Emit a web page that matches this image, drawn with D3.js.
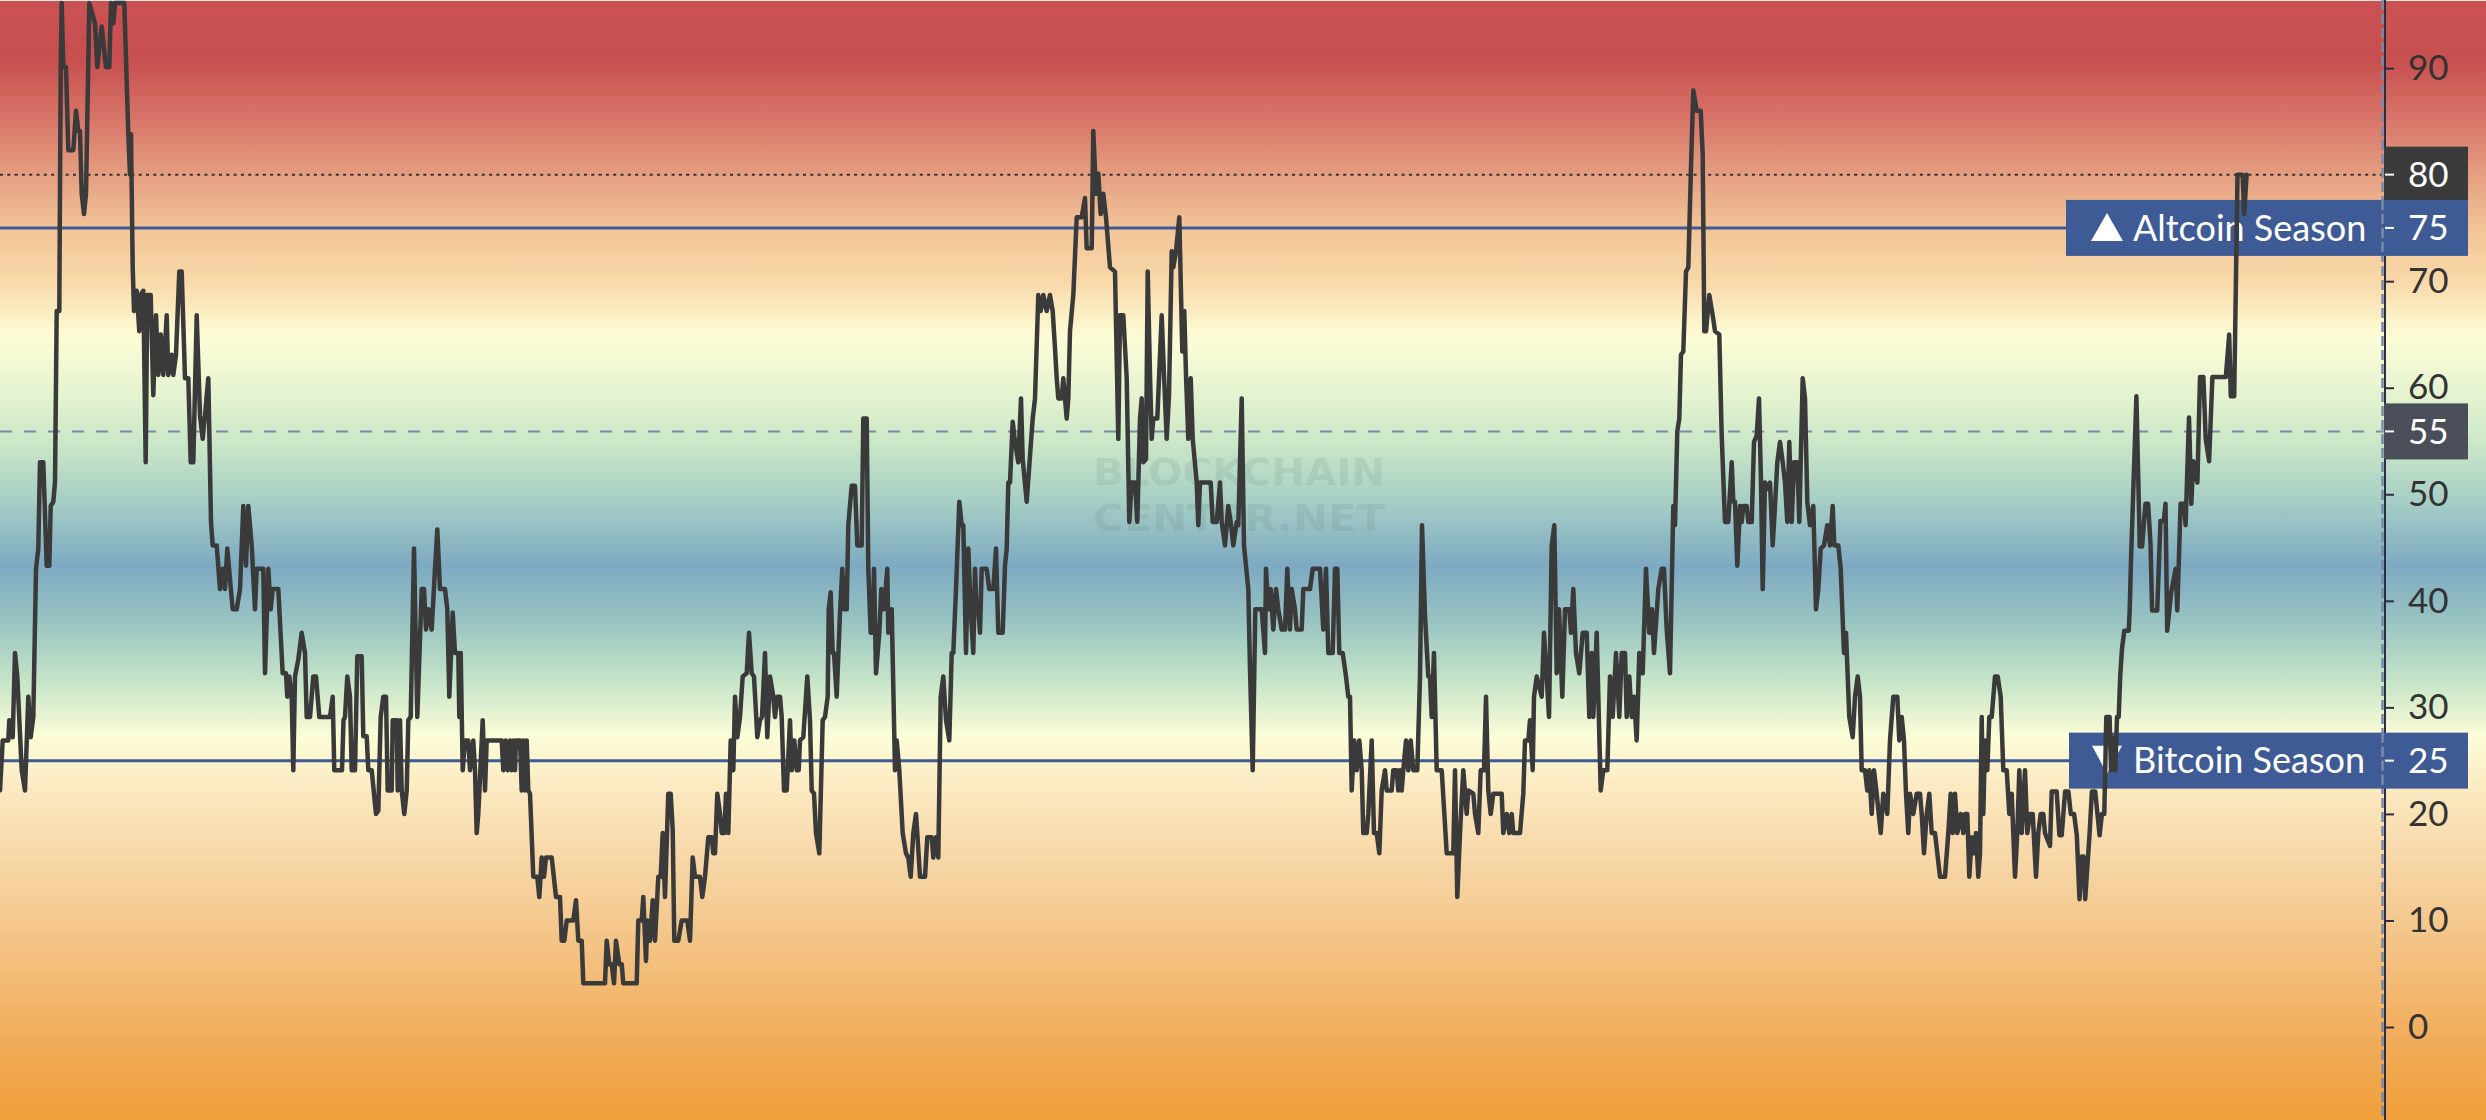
<!DOCTYPE html>
<html><head><meta charset="utf-8">
<script src="https://cdn.jsdelivr.net/npm/d3@7"></script>
<style>html,body{margin:0;padding:0;background:#fff;overflow:hidden}svg{display:block}</style>
</head><body><svg id="chart" width="2486" height="1120"></svg>
<script>
// ---- data ----
const tickValues = [0, 10, 20, 30, 40, 50, 60, 70, 80, 90];
const altcoinLevel = 75;
const bitcoinLevel = 25;
const averageLevel = 55.9;
const averageLabel = "55";
const lastValue = 80;
const altcoinText = "Altcoin Season";
const bitcoinText = "Bitcoin Season";
const watermarkLines = ["BLOCKCHAIN", "CENTER.NET"];
const bandValues = [96.4, 90.8, 85.1, 80.4, 75, 70.1, 64.7, 58.9, 55.1, 49.5, 43.3, 38.2, 32.6, 27.2, 21.4, 14.7, 7.2, -2.2, -8.7];
const bandColors = ["#cb5252","#c84f4f","#d8766a","#e49b7f","#f2c498","#f8d8a8","#fdfdd7","#e2f2cf","#cde8c8","#a7cfc5","#7daac2","#98c3c2","#c4e4c8","#fdfdd8","#fbe6bd","#f6d4a3","#f4c283","#f1aa55","#f0a03a"];
// [day offset, index value]
const altSeasonIndex = [[0,22.2],[2.7,26.9],[8.3,26.9],[9.3,28.8],[12.7,27.2],[15,35.1],[17.3,32.9],[21.7,24.1],[25,22.2],[28.3,31],[30.7,27.2],[33.3,29.1],[36,43],[38.3,44.9],[40,53],[43.3,53],[46.7,43.3],[49.3,43.3],[50.7,48.9],[53.3,49.3],[55,51.1],[56.7,67.2],[59.3,67.2],[60.7,90.1],[61.7,96.1],[63.3,90.1],[66,90.1],[68.3,82.3],[73.3,82.3],[76,86],[78.3,84.1],[80,84.1],[81.7,78.2],[84,76.3],[86,78.2],[89.3,96.1],[95,94.2],[97.3,90.1],[101.7,93.9],[106,90.1],[109.3,90.1],[111,96.1],[113.3,94.2],[115,96.1],[124.3,96.1],[128.3,83.8],[130,80],[131,83.8],[132.7,71.3],[134,67.2],[136.7,69.1],[139.3,65.3],[140.7,68.7],[143.3,69.1],[145.7,53],[147.3,68.7],[150.7,68.7],[153.3,59.3],[156,66.8],[158.3,61.2],[160.7,65],[163.3,61.2],[166.7,66.8],[168.3,61.2],[171.7,63.1],[173.3,61.2],[176,63.1],[179.3,70.9],[181.7,70.9],[185,60.9],[188.3,60.9],[190.7,53],[193.3,53],[196.7,66.8],[200,57.4],[202.7,55.2],[205,57.4],[208.3,60.9],[209.3,55.9],[211,47.4],[212.7,45.2],[216.7,45.2],[220,41.1],[222.7,43],[225,41.1],[227.3,44.9],[232.7,39.2],[236.7,39.2],[240,41.1],[243.3,48.9],[246,43.3],[248.3,48.9],[251.7,45.2],[255,39.2],[256.7,43],[263.3,43],[265,33.2],[268.3,43],[270.7,39.2],[272.7,41.1],[278.3,41.1],[282.7,33.2],[286,33.2],[287.3,31],[289.3,32.9],[291.7,31],[293.3,24.1],[295,32.9],[298.3,34.5],[301.7,37],[305,35.1],[306.7,29.1],[310,29.1],[313.3,32.9],[316,32.9],[319.3,29.1],[330,29.1],[332.7,31],[334.3,24.1],[342,24.1],[343.5,28.8],[345,29.1],[347.3,32.9],[350,31],[351.7,24.1],[355,24.1],[357.3,34.8],[361.7,34.8],[363.3,27.3],[366.7,27.3],[368.3,24.1],[371.7,24.1],[376,20],[378.3,20.3],[380.7,29.1],[383.3,31],[386,31],[387.7,22.2],[391.7,22.2],[392.7,28.8],[396.7,28.8],[397.7,22.2],[400,28.8],[401.7,22.2],[404.3,20],[406.7,22.2],[408.3,28.8],[410.7,29.1],[414,44.9],[417.3,29.1],[421.7,41.1],[424,41.1],[426,37.3],[428.3,39.2],[431.7,37.3],[435,43],[437.3,46.7],[440,41.1],[445,41.1],[447.3,39.2],[449.3,31],[452.7,38.9],[455,35.1],[458.3,35.1],[459.3,29.1],[460.7,35.1],[462.7,24.1],[465,26.9],[468.3,26.9],[470,24.1],[473.3,26.9],[475,24.1],[476.7,18.2],[478.3,20],[482.7,28.8],[485,22.2],[486.7,26.9],[501.7,26.9],[503.3,24.1],[505.7,26.9],[507.7,24.1],[510,26.9],[511.7,24.1],[513.3,26.9],[515,24.1],[516,26.9],[520,26.9],[521.7,22.2],[523.3,26.9],[525,22.2],[526.7,26.9],[528.3,22.2],[530,21.9],[533.3,14.1],[537.3,14.1],[539.3,12.2],[541.7,15.9],[544,14.1],[546,15.9],[551.7,15.9],[556,12.2],[560,12.2],[561.7,8.1],[564.3,8.1],[566.7,10],[573.3,10],[576,11.9],[578.3,8.1],[581.7,8.1],[583.3,4.1],[605,4.1],[606.7,8.1],[609.3,5.9],[611.7,5.9],[614,4.1],[616,8.1],[619.3,5.9],[621.7,5.9],[623.3,4.1],[636.7,4.1],[638.3,10],[641.7,10],[643.3,12.2],[646,6.2],[647.3,10],[650,8.1],[652.7,11.9],[655,8.1],[658.3,14.1],[660.7,14.1],[662.7,18.2],[665,12.2],[668.3,21.9],[670.7,21.9],[672.7,18.5],[674.3,8.1],[678.3,8.1],[681.7,10],[687.3,10],[690,8.1],[692.7,15.9],[695,14.1],[700,14.1],[702.3,12.2],[705,14.1],[708.3,17.8],[711.7,17.8],[713.3,16.3],[715,16.3],[717.3,21.9],[720,20],[721.7,18.2],[724.3,18.2],[726,21.9],[728.3,18.2],[730.7,26.9],[733.3,24.1],[735,31],[737.3,27.2],[740,29.1],[742.7,32.9],[746.7,33.2],[749,37],[751.7,33.2],[754,32.9],[757.3,27.2],[760,28.8],[762,29.1],[765,35.1],[767.3,27.2],[770,32.9],[773.3,31],[775,29.1],[777.3,31],[780,31],[781.7,29.1],[784,22.2],[786.7,22.2],[790,28.8],[791.7,24.1],[794.3,26.9],[796.7,24.1],[798.7,24.1],[800,26.9],[803.3,27.2],[807.3,32.9],[810,28.8],[811.7,22.2],[814,21.9],[816,18.2],[819.3,16.3],[822.7,28.8],[825,29.1],[827.7,31],[828.7,39.2],[830.7,40.8],[832.7,35.1],[834,35.1],[836.7,31],[840,38.9],[842.3,43],[844.3,39.2],[846.7,39.2],[848.3,47.1],[851.7,50.8],[855,50.8],[857.3,45.2],[861.7,45.2],[863.3,57.1],[866.7,57.1],[868.3,43],[870.7,37],[872.7,37],[874,43],[876,33.2],[879.3,37],[881.3,41.1],[884,39.2],[887.3,43],[888.3,37],[891.7,39.2],[895,24.1],[896.7,26.9],[899.3,24.1],[902.7,18.2],[906,16.3],[908.3,15.9],[910.7,14.1],[913.3,18.2],[916,20],[917.3,18.2],[920,14.1],[925,14.1],[927.3,17.8],[931.7,17.8],[933.3,15.9],[936,17.8],[938.3,15.9],[940.7,31],[943.3,32.9],[946,28.8],[949.3,26.9],[951.7,35.1],[953.3,35.1],[956,41.1],[959.3,49.3],[961.7,47.1],[963.3,47.1],[966,35.1],[968.3,44.9],[970.7,39.2],[973.3,35.1],[975,43],[976.7,39.2],[978.3,39.2],[980,37],[981.7,43],[986.7,43],[989.3,41.1],[993.3,41.1],[996,44.9],[998.3,37],[1002.7,37],[1005,43.3],[1006.7,44.9],[1008.3,51.1],[1010,51.1],[1012.7,56.8],[1015,54.9],[1018.3,53],[1021,59],[1022.7,53.3],[1026.7,49.3],[1030,53.6],[1032.7,57.1],[1035,59],[1038.3,68.7],[1040.7,67.2],[1043.3,68.7],[1046.7,67.2],[1050,68.7],[1052.7,67.2],[1055,63.7],[1056.7,60.9],[1058.3,59],[1061.7,59],[1063.3,60.9],[1065,59],[1066.7,57.1],[1068.3,59],[1070,65.3],[1073.3,68.7],[1076.7,76],[1081.7,76],[1085,77.8],[1086.7,73.1],[1091.7,73.1],[1093.3,84.1],[1096,78.2],[1098.3,80.1],[1100.7,76.3],[1103.3,78.2],[1106,76],[1110,71.3],[1115,70.9],[1118.3,55.2],[1120,66.8],[1123.3,66.8],[1126.7,60.9],[1129.3,47.4],[1131.7,51.1],[1135,51.1],[1137.3,47.4],[1140,57.1],[1141.7,59],[1143.3,53],[1146,53.3],[1147.7,70.9],[1150,61.2],[1151.7,55.2],[1153.3,57.1],[1157.3,57.1],[1161.7,66.8],[1164,61.2],[1166.7,55.2],[1169,59.3],[1171.7,72.8],[1173.3,71.3],[1176,72.8],[1179.3,76],[1182.3,63.4],[1184.3,67.2],[1186,61.2],[1188.3,55.2],[1190.7,60.9],[1192.7,55.2],[1196.7,51.1],[1198.3,47.1],[1200,51.1],[1210.7,51.1],[1212.7,47.4],[1216.7,47.4],[1220,51.1],[1221.7,47.4],[1225,45.2],[1228.3,48.9],[1230.7,47.4],[1233.3,45.2],[1236.7,47.4],[1238.3,47.1],[1241.7,59],[1244,45.2],[1248.3,41.1],[1250,33.6],[1252.7,24.1],[1255.3,39.2],[1261.7,39.2],[1265,35.1],[1266,43],[1268.3,39.2],[1270.7,41.1],[1273.3,37.3],[1276,41.1],[1278.3,39.2],[1281.7,37.3],[1285,37.3],[1287.3,43],[1290,37.3],[1291.7,41.1],[1295,39.2],[1296.7,37.3],[1301.7,37.3],[1303.3,41.1],[1310,41.1],[1312.7,43],[1320,43],[1323.3,37.3],[1326,43],[1328.3,35.1],[1332.7,35.1],[1335,43],[1337.3,43],[1339.3,35.1],[1342.7,35.1],[1346,32.9],[1348.3,31],[1350,31],[1351.7,22.2],[1354.3,26.9],[1356.7,24.1],[1359.3,26.9],[1361.7,24.1],[1363.3,18.2],[1366.7,18.2],[1368.3,20],[1371.7,26.9],[1374,18.2],[1376.7,18.2],[1379.3,16.3],[1381.7,22.2],[1385,24.1],[1386.7,22.2],[1391.7,22.2],[1393.3,24.1],[1396.7,24.1],[1398.3,22.2],[1400,24.1],[1401.7,22.2],[1403.3,24.1],[1406,26.9],[1408.3,24.1],[1410.7,26.9],[1413.3,24.1],[1417.3,24.1],[1420,32.9],[1422,47.1],[1425,38.6],[1428.3,32.9],[1430,32.9],[1431.7,29.1],[1434,35.1],[1436.7,24.1],[1441.7,24.1],[1446.7,16.3],[1453.3,16.3],[1455,24.1],[1457.3,12.2],[1460,18.2],[1463.3,24.1],[1466.7,20],[1468.3,22.2],[1473.3,21.9],[1475,20],[1478.3,18.2],[1480.7,24.1],[1484,24.1],[1486,31],[1488.3,22.2],[1490.7,20],[1493.3,21.9],[1501.7,21.9],[1503.3,18.2],[1506.7,20],[1509.3,18.2],[1511.7,20],[1513.3,18.2],[1520,18.2],[1523.3,21.9],[1525,26.9],[1528.3,26.9],[1530,28.8],[1532.7,24.1],[1534,31],[1536.7,32.9],[1541.7,31],[1544,37],[1546.7,32.9],[1549,29.1],[1551.7,45.2],[1554.3,47.1],[1556.7,33.2],[1559,39.2],[1562.3,31],[1565,39.2],[1569.3,39.2],[1571,37],[1573.3,41.1],[1576,35.1],[1579.3,33.2],[1582.7,37],[1586.7,37],[1589.3,29.1],[1591.7,35.1],[1593.3,29.1],[1596.7,37],[1600.7,22.2],[1603.3,24.1],[1607.3,24.1],[1610,32.9],[1612.7,29.1],[1616,35.1],[1619.3,29.1],[1621.7,35.1],[1625,35.1],[1626.7,29.1],[1629.3,32.9],[1631.7,29.1],[1634,31],[1636.7,26.9],[1639.3,35.1],[1642.7,33.2],[1646,43],[1649.3,37],[1652,39.2],[1654,35.1],[1658.3,41.1],[1661.7,43],[1664,43],[1666.7,37.3],[1670,33.2],[1673.3,48.9],[1675,47.1],[1677.3,55.9],[1679.3,57.1],[1681,63.1],[1683.3,63.4],[1686,70.9],[1688.3,71.3],[1691,80.7],[1693.3,87.9],[1696.7,86],[1700.7,86],[1702.7,81.9],[1704.3,65.3],[1706,65.3],[1709.3,68.7],[1712.7,66.8],[1715,65.3],[1719.3,65],[1721.7,55.5],[1725,47.4],[1728.3,47.4],[1731.7,53],[1733.3,49.3],[1735,49.3],[1737.3,43.3],[1740,48.9],[1741.7,47.4],[1743.3,48.9],[1746.7,48.9],[1748.3,47.4],[1751.7,47.4],[1754,54.9],[1756.7,55.5],[1759,59],[1761,51.1],[1762.7,41.1],[1765,51.1],[1768.3,50.5],[1770,51.1],[1772.7,45.2],[1775,48.9],[1777.3,53],[1780,54.9],[1782.7,53],[1785,51.1],[1787.3,47.4],[1789.3,54.9],[1791.7,47.4],[1794,53],[1797.3,53],[1799.3,47.4],[1802.7,60.9],[1805,59],[1807.3,49.3],[1810,47.1],[1813.3,48.9],[1816,39.2],[1818.3,41.1],[1820.7,44.9],[1824,45.2],[1827.3,47.1],[1830,45.2],[1832.7,48.9],[1834.3,45.2],[1838.3,45.2],[1840.7,43],[1844,35.1],[1846,37],[1849.3,29.1],[1852.7,27.2],[1855,31],[1857.7,32.9],[1860,31],[1861.7,24.1],[1865,24.1],[1867.3,22.2],[1869.3,24.1],[1871.7,20],[1874,24.1],[1876.7,21.9],[1880.7,18.2],[1883.3,21.9],[1887.3,20],[1890,26.9],[1893.3,31],[1897.3,31],[1899.3,26.9],[1901.7,29.1],[1904,26.9],[1906,21.9],[1908.3,18.2],[1910,21.9],[1913.3,20],[1916.7,21.9],[1920,21.9],[1921.7,20],[1924,16.3],[1926.7,20],[1929.3,21.9],[1931.7,18.2],[1935,18.2],[1937.3,16.3],[1940,14.1],[1945,14.1],[1948.3,18.2],[1950.7,21.9],[1952.7,18.2],[1955,21.9],[1957.3,18.2],[1960.7,20],[1963.3,18.2],[1965,20],[1967.3,20],[1969.3,14.1],[1971.7,17.8],[1974,16.3],[1976,18.2],[1978.3,14.1],[1980,16.3],[1981.7,29.1],[1983.3,20],[1985,26.9],[1987.3,24.1],[1989.3,29.1],[1991.7,29.1],[1995,32.9],[1997.7,32.9],[2000.7,31],[2003.3,24.1],[2006.7,24.1],[2009.3,20],[2011.7,21.9],[2015,14.1],[2017.3,18.2],[2019.3,24.1],[2021.7,18.2],[2025,24.1],[2027.3,18.2],[2030,20],[2032.7,20],[2036,14.1],[2038.3,18.2],[2040.7,20],[2043.3,20],[2045,18.2],[2050,17],[2051.7,22.1],[2056.7,22.1],[2059.4,18],[2061.7,18],[2065.1,22.1],[2068.4,22.1],[2070.8,20],[2074.1,20],[2076.8,18],[2079.5,12],[2081.8,16],[2083.5,16],[2085.2,12],[2089.5,18],[2091.9,22.1],[2095.2,22.1],[2099.6,18],[2101.9,20],[2104.3,20],[2106.3,29.1],[2109.6,29.1],[2111,24.1],[2113,27.1],[2115.3,24.1],[2117,29.1],[2118.7,29.1],[2120.3,33.1],[2122,35.5],[2124.3,37.2],[2128.7,37.2],[2129.7,39.1],[2131,43.8],[2136.4,59.2],[2139.8,45.1],[2142.1,45.1],[2145.4,49.1],[2148.1,49.1],[2150.5,45.4],[2152.1,39.1],[2157.2,39.1],[2160.5,47.5],[2163.9,47.5],[2165.5,49.1],[2167.2,37.2],[2171.2,40.8],[2175.6,43],[2177.3,39.1],[2180.6,49.1],[2184,49.1],[2185.6,47.1],[2189,57.2],[2191.3,49.1],[2193.3,53.1],[2197.4,51.1],[2200,61],[2203.4,61],[2205.7,55.2],[2209.1,53.1],[2212.4,61],[2225.8,61],[2229.2,65],[2230.8,59.2],[2234.2,59.2],[2237.5,80],[2242.6,80],[2244.2,76.3],[2246.6,80]];
const dayDomain = [0, 2384];

// ---- layout ----
const W = 2486, H = 1120, plotRight = 2384;
const FONT = "Lato, 'Open Sans', 'DejaVu Sans', sans-serif";
const svg = d3.select("#chart");
const x = d3.scaleLinear().domain(dayDomain).range([0, plotRight]);
const y = d3.scaleLinear().domain([-8.728, 96.39]).range([H, 0]);

// background gradient
const defs = svg.append("defs");
const grad = defs.append("linearGradient").attr("id", "bg")
  .attr("gradientUnits", "userSpaceOnUse").attr("x1", 0).attr("x2", 0).attr("y1", 0).attr("y2", H);
grad.selectAll("stop").data(bandValues).join("stop")
  .attr("offset", v => Math.max(0, Math.min(1, y(v) / H)))
  .attr("stop-color", (v, i) => bandColors[i]);
svg.append("rect").attr("width", W).attr("height", H).attr("fill", "url(#bg)");
svg.append("line").attr("x1", 0).attr("x2", W).attr("y1", 0.5).attr("y2", 0.5).attr("stroke", "#e6e6e6").attr("stroke-width", 1);

// watermark
const wm = svg.append("g").attr("fill", "#4f6f6a").attr("fill-opacity", 0.12)
  .attr("font-family", "'DejaVu Sans', sans-serif").attr("font-weight", 700).attr("font-size", 38);
wm.selectAll("text").data(watermarkLines).join("text")
  .attr("x", 1093).attr("y", (d, i) => 485 + i * 46)
  .attr("textLength", 292).attr("lengthAdjust", "spacingAndGlyphs").text(d => d);

// reference lines
svg.append("line").attr("x1", 0).attr("x2", plotRight).attr("y1", y(averageLevel)).attr("y2", y(averageLevel))
  .attr("stroke", "#7b8aa6").attr("stroke-width", 2).attr("stroke-dasharray", "12,12");
svg.append("line").attr("x1", 0).attr("x2", plotRight).attr("y1", y(lastValue)).attr("y2", y(lastValue))
  .attr("stroke", "#333").attr("stroke-width", 2).attr("stroke-dasharray", "3,4.3");
[altcoinLevel, bitcoinLevel].forEach(v => {
  svg.append("line").attr("x1", 0).attr("x2", 2070).attr("y1", y(v)).attr("y2", y(v))
    .attr("stroke", "#3f5b96").attr("stroke-width", 3);
});

// axis
svg.append("line").attr("x1", 2382.5).attr("x2", 2382.5).attr("y1", 0).attr("y2", H)
  .attr("stroke", "#7b8aa6").attr("stroke-width", 2.5).attr("stroke-dasharray", "10,4");
svg.append("line").attr("x1", 2385).attr("x2", 2385).attr("y1", 0).attr("y2", H)
  .attr("stroke", "#2b2d42").attr("stroke-width", 2);
const axis = svg.append("g").attr("transform", "translate(2385,0)")
  .call(d3.axisRight(y).tickValues(tickValues).tickSize(9).tickPadding(14).tickFormat(d3.format("d")));
axis.select(".domain").remove();
axis.selectAll(".tick line").attr("stroke", "#2b2d42").attr("stroke-width", 2);
axis.selectAll(".tick text").attr("fill", "#333").attr("font-family", FONT).attr("font-size", 35).attr("text-anchor", "start");

// label boxes
const boxH = 56;
function valueBox(v, left, color, text) {
  const g = svg.append("g");
  g.append("rect").attr("x", left).attr("y", y(v) - boxH / 2).attr("width", 2468 - left).attr("height", boxH).attr("fill", color);
  g.append("line").attr("x1", 2385).attr("x2", 2394).attr("y1", y(v)).attr("y2", y(v)).attr("stroke", "#fff").attr("stroke-width", 2);
  g.append("text").attr("x", 2408).attr("y", y(v)).attr("dy", "0.35em").attr("fill", "#fff")
    .attr("font-family", FONT).attr("font-size", 35).text(text);
  return g;
}
valueBox(lastValue, 2384, "#3b3b3b", d3.format("d")(lastValue));
valueBox(averageLevel, 2384, "#4a4e58", averageLabel);
const ga = valueBox(altcoinLevel, 2066, "#3f5b96", String(altcoinLevel));
const gb = valueBox(bitcoinLevel, 2069, "#3f5b96", String(bitcoinLevel));
[altcoinLevel, bitcoinLevel].forEach(v => {
  svg.append("line").attr("x1", 2382.5).attr("x2", 2382.5).attr("y1", y(v) - boxH / 2).attr("y2", y(v) + boxH / 2)
    .attr("stroke", "#7b8aa6").attr("stroke-width", 2.5).attr("stroke-dasharray", "10,4");
});
function seasonLabel(g, v, up, text) {
  const cy = y(v), cx = 2107;
  const tri = up ? `M${cx - 16},${cy + 13} L${cx + 16},${cy + 13} L${cx},${cy - 15} Z`
                 : `M${cx - 15},${cy - 15} L${cx + 15},${cy - 15} L${cx},${cy + 13} Z`;
  g.append("path").attr("d", tri).attr("fill", "#fff");
  g.append("text").attr("x", 2133).attr("y", cy).attr("dy", "0.35em").attr("fill", "#fff")
    .attr("font-family", FONT).attr("font-size", 36).text(text);
}
seasonLabel(ga, altcoinLevel, true, altcoinText);
seasonLabel(gb, bitcoinLevel, false, bitcoinText);

// series line
const line = d3.line().x(d => x(d[0])).y(d => y(d[1]));
svg.append("path").datum(altSeasonIndex).attr("d", line)
  .attr("fill", "none").attr("stroke", "#3a3a3a").attr("stroke-width", 4.5)
  .attr("stroke-linejoin", "round").attr("stroke-linecap", "round");
</script></body></html>
